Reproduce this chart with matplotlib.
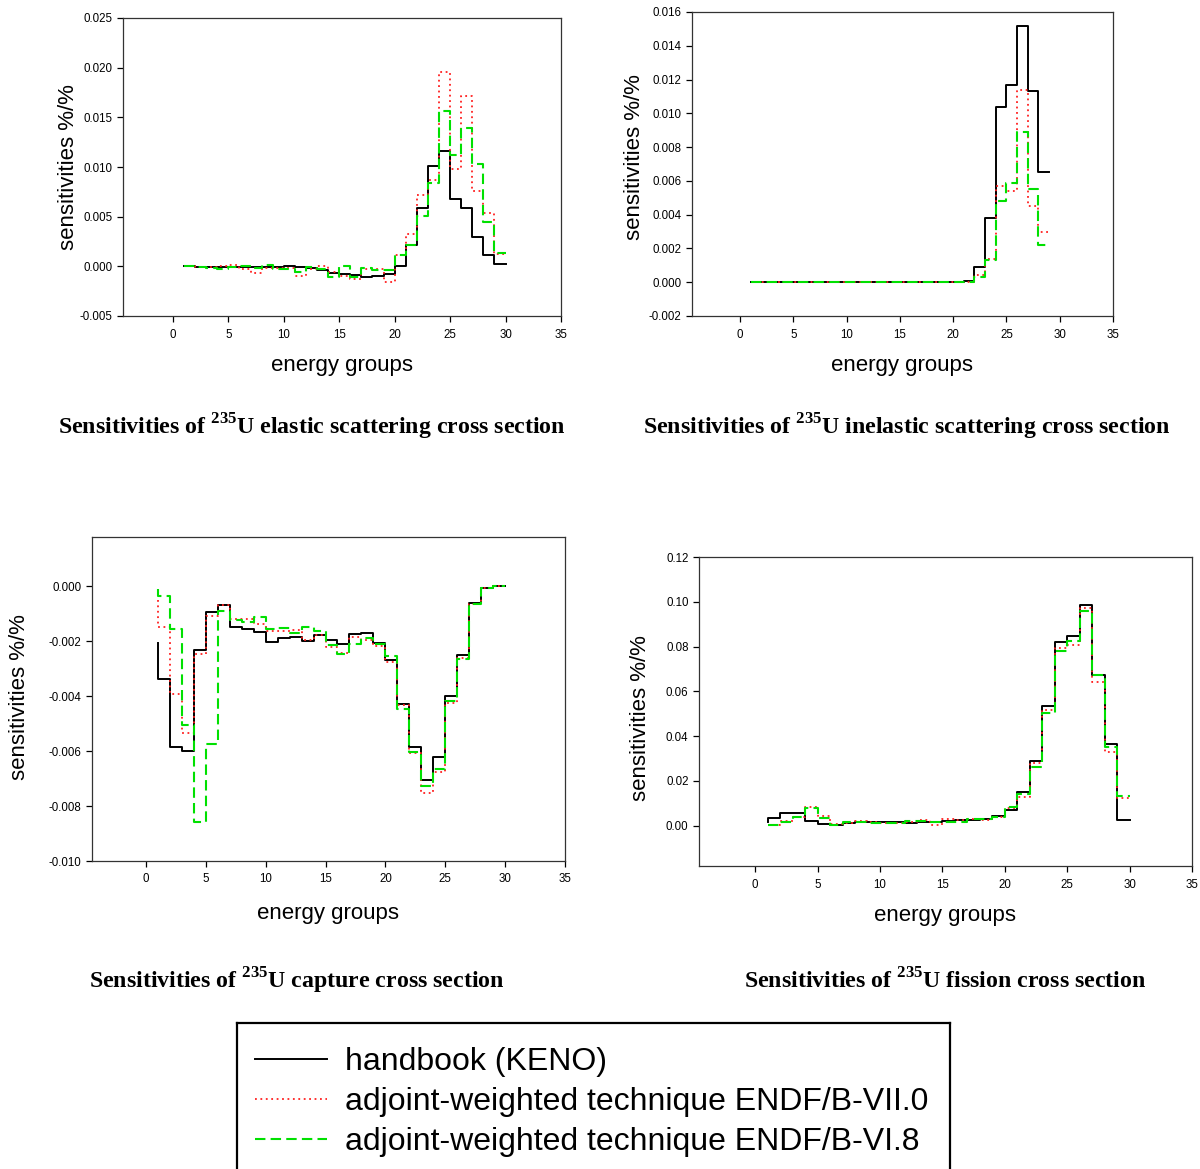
import numpy as np
import matplotlib
matplotlib.use("Agg")
from matplotlib import pyplot as plt
from matplotlib.ticker import FormatStrFormatter

plt.rcParams['font.family'] = ['Liberation Sans', 'DejaVu Sans']
plt.rcParams['mathtext.fontset'] = 'custom'
plt.rcParams['mathtext.rm'] = 'Liberation Serif:bold'
plt.rcParams['mathtext.bf'] = 'Liberation Serif:bold'

# values per energy group; first entry is the start point at group 1
groups_30 = list(range(1, 31))
groups_29 = list(range(1, 30))

elastic_keno = [0.0, 0.0, -0.00007, -0.0001, -0.00003, -0.00003, -0.0001, -0.00003, -0.00003, -0.0001,
                0.0, -0.00007, -0.00017, -0.0004, -0.00064, -0.00077, -0.00091, -0.00108, -0.001, -0.00077,
                0.0, 0.00215, 0.0059, 0.0101, 0.01157, 0.0068, 0.0059, 0.003, 0.00114, 0.0002]
elastic_b7 = [0.00003, 0.00003, -0.00003, -0.0001, 0.00007, 0.00013, -0.00027, -0.00067, -0.0002, -0.0002,
              -0.0002, -0.001, -0.00024, 0.0, -0.0006, -0.00094, -0.00128, -0.00027, -0.00027, -0.00155,
              0.00114, 0.00326, 0.00723, 0.00868, 0.0196, 0.00982, 0.01711, 0.00763, 0.00541, 0.00121]
elastic_b6 = [0.00007, 0.00007, -0.0001, -0.0002, -0.00024, -0.00007, 0.00007, -0.0002, 0.00017, -0.00024,
              -0.00027, -0.0006, -0.0001, -0.0003, -0.00104, 0.0, -0.00111, -0.00017, -0.00034, -0.0004,
              0.00118, 0.00215, 0.00504, 0.00837, 0.01564, 0.01116, 0.01392, 0.01026, 0.00447, 0.00131]

inelastic_keno = [0.0, 0.0, 0.0, 0.0, 0.0, 0.0, 0.0, 0.0, 0.0, 0.0, 0.0, 0.0, 0.0, 0.0, 0.0, 0.0, 0.0, 0.0, 0.0, 0.0,
                  0.0, 0.0001, 0.0009, 0.0038, 0.0104, 0.0117, 0.01515, 0.0113, 0.0065]
inelastic_b7 = [0.0, 0.0, 0.0, 0.0, 0.0, 0.0, 0.0, 0.0, 0.0, 0.0, 0.0, 0.0, 0.0, 0.0, 0.0, 0.0, 0.0, 0.0, 0.0, 0.0,
                0.0, 0.00004, 0.0004, 0.0014, 0.0057, 0.0054, 0.0114, 0.0045, 0.003]
inelastic_b6 = [0.0, 0.0, 0.0, 0.0, 0.0, 0.0, 0.0, 0.0, 0.0, 0.0, 0.0, 0.0, 0.0, 0.0, 0.0, 0.0, 0.0, 0.0, 0.0, 0.0,
                0.0, 0.00002, 0.0003, 0.0013, 0.0048, 0.0059, 0.0089, 0.0055, 0.0022]

capture_keno = [-0.00206, -0.00336, -0.00585, -0.00598, -0.00233, -0.00093, -0.00069, -0.00147, -0.00154, -0.00167,
                -0.00201, -0.00189, -0.00184, -0.00197, -0.00178, -0.00195, -0.0021, -0.00172, -0.00171, -0.00205,
                -0.00268, -0.00428, -0.00585, -0.00705, -0.0062, -0.004, -0.0025, -0.00061, -0.00007, 0.0]
capture_b7 = [-0.0005, -0.00146, -0.00392, -0.00534, -0.00245, -0.00106, -0.00066, -0.00119, -0.00119, -0.00137,
              -0.00164, -0.00164, -0.00158, -0.00194, -0.00176, -0.00222, -0.00243, -0.00186, -0.00194, -0.00218,
              -0.00277, -0.00431, -0.00607, -0.00752, -0.00677, -0.00425, -0.00261, -0.00063, -0.00006, 0.0]
capture_b6 = [-0.0001, -0.00034, -0.00155, -0.00504, -0.00858, -0.00574, -0.00089, -0.00121, -0.00129, -0.00113,
              -0.00154, -0.00152, -0.0017, -0.00146, -0.00164, -0.00214, -0.00245, -0.00209, -0.00187, -0.00209,
              -0.00255, -0.00447, -0.00604, -0.00728, -0.00665, -0.00419, -0.00265, -0.00064, -0.00007, 0.0]

fission_keno = [0.0018, 0.0033, 0.0057, 0.0057, 0.0022, 0.0007, 0.0003, 0.001, 0.0015, 0.0015,
                0.0015, 0.0015, 0.0013, 0.0015, 0.0018, 0.0019, 0.0024, 0.0025, 0.003, 0.0043,
                0.007, 0.0149, 0.0288, 0.0536, 0.0822, 0.0846, 0.0985, 0.0675, 0.0367, 0.0025]
fission_b7 = [0.0003, 0.0003, 0.0022, 0.004, 0.0085, 0.0045, 0.0006, 0.0013, 0.0021, 0.0018,
              0.0013, 0.0013, 0.0018, 0.0025, 0.0003, 0.0031, 0.0025, 0.0028, 0.0025, 0.0037,
              0.0078, 0.013, 0.0282, 0.0518, 0.0793, 0.0809, 0.0973, 0.064, 0.0331, 0.0122]
fission_b6 = [0.0003, 0.0003, 0.0018, 0.004, 0.0078, 0.0033, 0.0003, 0.0018, 0.0018, 0.0013,
              0.0013, 0.0013, 0.0022, 0.0019, 0.0018, 0.0018, 0.0018, 0.0028, 0.0031, 0.0037,
              0.0082, 0.014, 0.0264, 0.0503, 0.0778, 0.0824, 0.0961, 0.0675, 0.0351, 0.0133]

labels = ["handbook (KENO)",
          "adjoint-weighted technique ENDF/B-VII.0",
          "adjoint-weighted technique ENDF/B-VI.8"]

W, H = 1200, 1169
fig = plt.figure(figsize=(W / 100, H / 100), dpi=100)


def px_axes(left, top, right, bottom):
    return fig.add_axes([left / W, 1 - bottom / H, (right - left) / W, (bottom - top) / H])


def panel(ax, x, keno, b7, b6, ylim, yticks, fmt):
    h1, = ax.plot(x, keno, drawstyle='steps-pre', color='black', lw=1.4)
    h2, = ax.plot(x, b7, drawstyle='steps-pre', color='#ff2020', lw=1.3, ls=(0, (1, 2)))
    h3, = ax.plot(x, b6, drawstyle='steps-pre', color='#00e000', lw=1.5, ls=(0, (5, 2.5)))
    ax.set_xlim(-4.5, 35)
    ax.set_ylim(*ylim)
    ax.set_xticks(range(0, 36, 5))
    ax.set_yticks(yticks)
    ax.yaxis.set_major_formatter(FormatStrFormatter(fmt))
    ax.tick_params(direction='out', length=4, width=0.9, labelsize=8.3, top=False, right=False)
    ax.tick_params(axis='x', pad=5)
    for s in ax.spines.values():
        s.set_linewidth(0.9)
        s.set_color('#333333')
    return [h1, h2, h3]


ax1 = px_axes(123, 18, 561, 316)
handles = panel(ax1, groups_30, elastic_keno, elastic_b7, elastic_b6, (-0.005, 0.025),
                np.arange(-0.005, 0.0251, 0.005), '%.3f')
ax2 = px_axes(692, 12, 1113, 316)
panel(ax2, groups_29, inelastic_keno, inelastic_b7, inelastic_b6, (-0.002, 0.016),
      np.arange(-0.002, 0.0161, 0.002), '%.3f')
ax3 = px_axes(92, 537, 565, 861)
panel(ax3, groups_30, capture_keno, capture_b7, capture_b6, (-0.010, 0.0018),
      np.arange(-0.010, 0.0001, 0.002), '%.3f')
ax4 = px_axes(699, 557, 1192, 866)
panel(ax4, groups_30, fission_keno, fission_b7, fission_b6, (-0.018, 0.12),
      np.arange(0.0, 0.121, 0.02), '%.2f')

# axis labels
for x, y in [(342, 365), (902, 365), (328, 913), (945, 916)]:
    fig.text(x / W, 1 - y / H, "energy groups", fontsize=16, ha='center', va='center')
for x, y in [(68, 167), (634, 157), (20, 697), (641, 718)]:
    fig.text(x / W, 1 - y / H, "sensitivities %/%", fontsize=16, ha='center', va='center', rotation=90)

# captions
titles = [(312, 427, "elastic scattering cross section"),
          (907, 427, "inelastic scattering cross section"),
          (297, 981, "capture cross section"),
          (945, 981, "fission cross section")]
for x, y, t in titles:
    fig.text(x / W, 1 - y / H, "Sensitivities of $^{235}$U " + t, fontsize=17.2,
             family='Liberation Serif', weight='bold', ha='center', va='center')

# legend box, running off the bottom edge
lax = px_axes(237, 1023, 950, 1185)
lax.set_xticks([])
lax.set_yticks([])
for s in lax.spines.values():
    s.set_linewidth(1.6)
    s.set_color('black')
lax.legend(handles, labels, loc='upper left', bbox_to_anchor=(-9 / 713, 1 + 3 / 162), frameon=False,
           fontsize=23, handlelength=2.25, handletextpad=0.55, labelspacing=0.31,
           borderaxespad=0.45)

fig.savefig("out.png", dpi=100)
